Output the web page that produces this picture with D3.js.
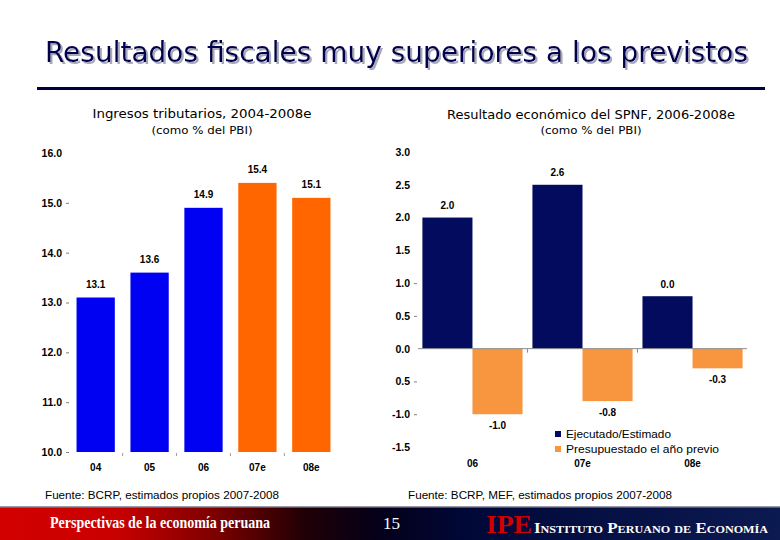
<!DOCTYPE html>
<html>
<head>
<meta charset="utf-8">
<script src="https://cdn.jsdelivr.net/npm/d3@7"></script>
<style>
  html, body { margin: 0; padding: 0; background: #ffffff; }
  svg { display: block; }
</style>
</head>
<body>
<div id="chart"></div>
<script>
// ---------------- DATA ----------------
const mainTitle = "Resultados fiscales muy superiores a los previstos";

const leftTitle = "Ingresos tributarios, 2004-2008e";
const leftSubtitle = "(como % del PBI)";
const leftCategories = ["04", "05", "06", "07e", "08e"];
const leftValues = [13.1, 13.6, 14.9, 15.4, 15.1];
const leftKinds = ["obs", "obs", "obs", "est", "est"];
const leftTicks = [10, 11, 12, 13, 14, 15, 16];
const leftTickLabels = ["10.0", "11.0", "12.0", "13.0", "14.0", "15.0", "16.0"];
const leftSource = "Fuente: BCRP, estimados propios 2007-2008";

const rightTitle = "Resultado económico del SPNF, 2006-2008e";
const rightSubtitle = "(como % del PBI)";
const rightCategories = ["06", "07e", "08e"];
const seriesNames = ["Ejecutado/Estimado", "Presupuestado el año previo"];
const ejecutadoValues = [2.0, 2.5, 0.8];
const ejecutadoLabels = ["2.0", "2.6", "0.0"];
const presupuestadoValues = [-1.0, -0.8, -0.3];
const presupuestadoLabels = ["-1.0", "-0.8", "-0.3"];
const rightTicks = [3.0, 2.5, 2.0, 1.5, 1.0, 0.5, 0.0, -0.5, -1.0, -1.5];
const rightTickLabels = ["3.0", "2.5", "2.0", "1.5", "1.0", "0.5", "0.0", "0.5", "-1.0", "-1.5"];
const rightSource = "Fuente: BCRP, MEF, estimados propios 2007-2008";

const footerText = "Perspectivas de la economía peruana";
const pageNumber = "15";
const orgShort = "IPE";
const orgName = "Instituto Peruano de Economía";

// ---------------- STYLE ----------------
const W = 780, H = 540;
const colBlue = "#0000f2";
const colOrange = "#ff6600";
const colNavy = "#020b5e";
const colLightOrange = "#f7963e";
const sans = "'Liberation Sans', Arial, sans-serif";
const verd = "'DejaVu Sans', Verdana, sans-serif";
const serif = "'Liberation Serif', 'Times New Roman', serif";

const svg = d3.select("#chart").append("svg")
  .attr("width", W).attr("height", H)
  .attr("viewBox", `0 0 ${W} ${H}`);

svg.append("rect").attr("width", W).attr("height", H).attr("fill", "#fff");

const defs = svg.append("defs");
const shadow = defs.append("filter").attr("id", "shadow")
  .attr("x", "-5%").attr("y", "-20%").attr("width", "110%").attr("height", "150%");
shadow.append("feDropShadow").attr("dx", 2).attr("dy", 2).attr("stdDeviation", 0.6)
  .attr("flood-color", "#a8a8bc").attr("flood-opacity", 1);

// ---------------- MAIN TITLE ----------------
svg.append("text")
  .attr("x", 45).attr("y", 62)
  .attr("font-family", "'DejaVu Sans Condensed', 'DejaVu Sans', Verdana, sans-serif")
  .attr("font-size", 29)
  .attr("fill", "#000050")
  .attr("filter", "url(#shadow)")
  .attr("textLength", 703).attr("lengthAdjust", "spacingAndGlyphs")
  .text(mainTitle);
svg.append("rect").attr("x", 37).attr("y", 87).attr("width", 728).attr("height", 3).attr("fill", "#000040");

// ---------------- LEFT CHART ----------------
const xL = d3.scaleBand().domain(leftCategories).range([69, 338]).paddingInner(0.29).paddingOuter(0.14);
const yL = d3.scaleLinear().domain([10, 16]).range([452, 153]);

svg.append("text").attr("x", 202).attr("y", 118).attr("text-anchor", "middle")
  .attr("font-family", verd).attr("font-size", 12).attr("fill", "#000")
  .attr("textLength", 219).attr("lengthAdjust", "spacingAndGlyphs").text(leftTitle);
svg.append("text").attr("x", 202).attr("y", 134).attr("text-anchor", "middle")
  .attr("font-family", verd).attr("font-size", 11).attr("fill", "#000")
  .attr("textLength", 101).attr("lengthAdjust", "spacingAndGlyphs").text(leftSubtitle);

const axL = svg.append("g").attr("transform", "translate(69,0)")
  .call(d3.axisLeft(yL).tickValues(leftTicks).tickSize(3).tickPadding(4)
    .tickFormat((d, i) => leftTickLabels[i]));
axL.select(".domain").remove();
axL.selectAll(".tick line").attr("stroke", "#808080").attr("opacity", d => d === 16 ? 0 : 1);
axL.selectAll(".tick text").attr("font-family", sans).attr("font-size", 10.5)
  .attr("font-weight", "bold").attr("fill", "#000");

svg.append("g").selectAll("rect").data(leftValues).join("rect")
  .attr("x", (d, i) => xL(leftCategories[i]))
  .attr("width", xL.bandwidth())
  .attr("y", d => yL(d))
  .attr("height", d => yL(10) - yL(d))
  .attr("fill", (d, i) => leftKinds[i] === "obs" ? colBlue : colOrange);

svg.append("g").selectAll("text").data(leftValues).join("text")
  .attr("x", (d, i) => xL(leftCategories[i]) + xL.bandwidth() / 2)
  .attr("y", d => yL(d) - 10)
  .attr("text-anchor", "middle")
  .attr("font-family", sans).attr("font-size", 10).attr("font-weight", "bold")
  .text(d => d.toFixed(1));

// category boundary ticks
svg.append("g").selectAll("line").data(leftCategories.slice(1)).join("line")
  .attr("x1", d => xL(d) - xL.step() * xL.paddingInner() / 2)
  .attr("x2", d => xL(d) - xL.step() * xL.paddingInner() / 2)
  .attr("y1", 453).attr("y2", 456).attr("stroke", "#a0a0a0");

svg.append("g").selectAll("text").data(leftCategories).join("text")
  .attr("x", d => xL(d) + xL.bandwidth() / 2)
  .attr("y", 471).attr("text-anchor", "middle")
  .attr("font-family", sans).attr("font-size", 10).attr("font-weight", "bold")
  .text(d => d);

svg.append("text").attr("x", 45).attr("y", 499)
  .attr("font-family", sans).attr("font-size", 11).attr("fill", "#000")
  .attr("textLength", 234).attr("lengthAdjust", "spacingAndGlyphs").text(leftSource);

// ---------------- RIGHT CHART ----------------
const x0 = d3.scaleBand().domain(rightCategories).range([418, 747]).paddingInner(0.09).paddingOuter(0.04);
const x1 = d3.scaleBand().domain(seriesNames).range([0, x0.bandwidth()]);
const yR = d3.scaleLinear().domain([-1.5, 3.0]).range([447, 152]);

svg.append("text").attr("x", 591).attr("y", 119).attr("text-anchor", "middle")
  .attr("font-family", verd).attr("font-size", 12).attr("fill", "#000")
  .attr("textLength", 288).attr("lengthAdjust", "spacingAndGlyphs").text(rightTitle);
svg.append("text").attr("x", 591).attr("y", 134).attr("text-anchor", "middle")
  .attr("font-family", verd).attr("font-size", 11).attr("fill", "#000")
  .attr("textLength", 101).attr("lengthAdjust", "spacingAndGlyphs").text(rightSubtitle);

const axR = svg.append("g").attr("transform", "translate(417,0)")
  .call(d3.axisLeft(yR).tickValues(rightTicks).tickSize(3).tickPadding(4)
    .tickFormat((d, i) => rightTickLabels[i]));
axR.select(".domain").remove();
axR.selectAll(".tick line").attr("stroke", "#808080")
  .attr("opacity", d => (d === 1.0 || d === 0.5 || d === -0.5 || d === -1.0) ? 1 : 0);
axR.selectAll(".tick text").attr("font-family", sans).attr("font-size", 10.5)
  .attr("font-weight", "bold").attr("fill", "#000");

const seriesData = [
  { name: seriesNames[0], values: ejecutadoValues, labels: ejecutadoLabels, color: colNavy },
  { name: seriesNames[1], values: presupuestadoValues, labels: presupuestadoLabels, color: colLightOrange }
];

seriesData.forEach(s => {
  svg.append("g").selectAll("rect").data(s.values).join("rect")
    .attr("x", (d, i) => x0(rightCategories[i]) + x1(s.name))
    .attr("width", x1.bandwidth())
    .attr("y", d => yR(Math.max(0, d)))
    .attr("height", d => Math.abs(yR(d) - yR(0)))
    .attr("fill", s.color);
  svg.append("g").selectAll("text").data(s.values).join("text")
    .attr("x", (d, i) => x0(rightCategories[i]) + x1(s.name) + x1.bandwidth() / 2)
    .attr("y", d => d >= 0 ? yR(d) - 8.5 : yR(d) + 14.5)
    .attr("text-anchor", "middle")
    .attr("font-family", sans).attr("font-size", 10).attr("font-weight", "bold")
    .text((d, i) => s.labels[i]);
});

// zero line
svg.append("line").attr("x1", 418).attr("x2", 747).attr("y1", yR(0)).attr("y2", yR(0))
  .attr("stroke", "#8c8c8c").attr("stroke-width", 1);
svg.append("g").selectAll("line").data(rightCategories.slice(1)).join("line")
  .attr("x1", d => x0(d) - x0.step() * x0.paddingInner() / 2)
  .attr("x2", d => x0(d) - x0.step() * x0.paddingInner() / 2)
  .attr("y1", yR(0)).attr("y2", yR(0) + 4).attr("stroke", "#8c8c8c");

svg.append("g").selectAll("text").data(rightCategories).join("text")
  .attr("x", d => x0(d) + x0.bandwidth() / 2)
  .attr("y", 467).attr("text-anchor", "middle")
  .attr("font-family", sans).attr("font-size", 10).attr("font-weight", "bold")
  .text(d => d);

// legend
const lg = svg.append("g").selectAll("g").data(seriesData).join("g")
  .attr("transform", (d, i) => `translate(555,${434 + i * 15})`);
lg.append("rect").attr("x", 0).attr("y", -3).attr("width", 6).attr("height", 6).attr("fill", d => d.color);
lg.append("text").attr("x", 11).attr("y", 4)
  .attr("font-family", sans).attr("font-size", 10.5).attr("fill", "#000")
  .attr("textLength", (d, i) => i === 0 ? 105 : 153).attr("lengthAdjust", "spacingAndGlyphs")
  .text(d => d.name);

svg.append("text").attr("x", 408).attr("y", 499)
  .attr("font-family", sans).attr("font-size", 11).attr("fill", "#000")
  .attr("textLength", 264).attr("lengthAdjust", "spacingAndGlyphs").text(rightSource);

// ---------------- FOOTER BAND ----------------
const grad = defs.append("linearGradient").attr("id", "band").attr("x1", 0).attr("x2", 1).attr("y1", 0).attr("y2", 0);
[["0%", "#d40000"], ["15%", "#c80000"], ["28%", "#7a0000"], ["39%", "#200006"], ["48%", "#050018"], ["60%", "#000838"], ["100%", "#0c1a52"]]
  .forEach(([o, c]) => grad.append("stop").attr("offset", o).attr("stop-color", c));

svg.append("rect").attr("x", 0).attr("y", 507).attr("width", W).attr("height", 33).attr("fill", "url(#band)");
svg.append("rect").attr("x", 0).attr("y", 506).attr("width", W).attr("height", 1.5).attr("fill", "#9a9aa8");

svg.append("text").attr("x", 50).attr("y", 528)
  .attr("font-family", serif).attr("font-size", 16).attr("font-weight", "bold").attr("fill", "#fff")
  .attr("textLength", 220).attr("lengthAdjust", "spacingAndGlyphs").text(footerText);
svg.append("text").attr("x", 383).attr("y", 529)
  .attr("font-family", serif).attr("font-size", 17).attr("fill", "#fff").text(pageNumber);
svg.append("text").attr("x", 486).attr("y", 533)
  .attr("font-family", serif).attr("font-size", 25).attr("font-weight", "bold").attr("fill", "#d00000")
  .attr("textLength", 46).attr("lengthAdjust", "spacingAndGlyphs").text(orgShort);
svg.append("text").attr("x", 534).attr("y", 533)
  .attr("font-family", serif).attr("font-size", 14).attr("font-weight", "bold").attr("fill", "#fff")
  .style("font-variant", "small-caps")
  .attr("textLength", 234).attr("lengthAdjust", "spacingAndGlyphs").text(orgName);
</script>
</body>
</html>
